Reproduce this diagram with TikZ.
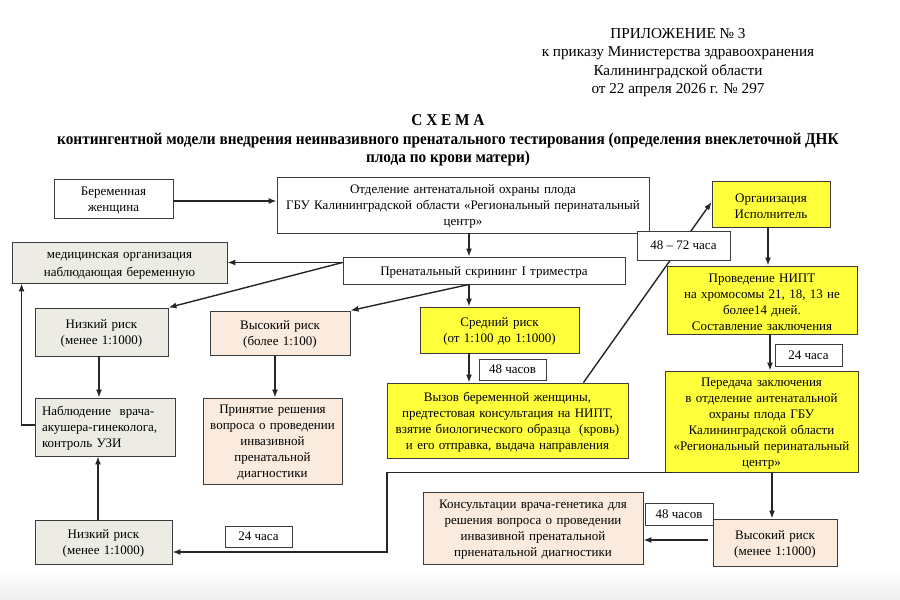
\documentclass[tikz,border=0pt]{standalone}
\usepackage{fontspec}
\setmainfont{Liberation Serif}
\newfontfamily\titlefont{Liberation Serif}[FakeStretch=0.927]
\usetikzlibrary{arrows.meta}
\definecolor{grayf}{RGB}{237,236,228}
\definecolor{peachf}{RGB}{250,235,222}
\definecolor{yellowf}{RGB}{255,255,60}
\definecolor{edge}{RGB}{60,60,60}
\tikzset{
  box/.style={draw=edge, line width=0.9pt, inner xsep=3pt, inner ysep=2pt, align=center,
    font=\fontsize{13}{16}\selectfont, execute at begin node={\rule{0pt}{12.5pt}}},
  wbox/.style={box, fill=white},
  gbox/.style={box, fill=grayf},
  pbox/.style={box, fill=peachf},
  ybox/.style={box, fill=yellowf},
  wh/.code 2 args={\pgfmathsetmacro\boxtw{#1-6}\tikzset{minimum width=#1pt, minimum height=#2pt, text width=\boxtw pt}},
  lbl/.style={draw=edge, line width=0.8pt, fill=white, inner sep=0pt, align=center,
    font=\fontsize{13}{15.5}\selectfont},
  arr/.style={draw=black!85, line width=1.4pt, -{Latex[length=8pt,width=6pt]}},
}
\begin{document}
\begin{tikzpicture}[x=1pt,y=-1pt]
\useasboundingbox (0,0) rectangle (900,600);
\fill[white] (0,0) rectangle (900,600);
\shade[top color=white, bottom color=black!7] (0,570) rectangle (900,600);

% header
\node[align=center, font=\fontsize{15.2}{18.3}\selectfont] (hdr) at (678,62.5)
  {ПРИЛОЖЕНИЕ № 3\\к приказу Министерства здравоохранения\\Калининградской области\\от 22 апреля 2026 г. № 297};
\node[align=center, font=\titlefont\bfseries\fontsize{16.5}{18.5}\selectfont] (title) at (448,140.5)
  {С Х Е М А\\контингентной модели внедрения неинвазивного пренатального тестирования (определения внеклеточной ДНК\\плода по крови матери)};

% boxes
\node[wbox, wh={119}{39}] (bw) at (113.5,198.5) {Беременная\\женщина};
\node[wbox, wh={372}{56}] (otd) at (463,205) {Отделение антенатальной охраны плода\\ГБУ Калининградской области «Региональный перинатальный\\центр»};
\node[gbox, wh={215}{41}, font=\fontsize{13}{18}\selectfont] (med) at (119.5,262.5) {медицинская организация\\наблюдающая беременную};
\node[wbox, wh={282}{27}] (scr) at (484,270.5) {Пренатальный скрининг I триместра};
\node[gbox, wh={133}{48}] (low1) at (101.5,332) {Низкий риск\\(менее 1:1000)};
\node[pbox, wh={140}{44}] (high1) at (280,333) {Высокий риск\\(более 1:100)};
\node[ybox, wh={159}{46}] (mid) at (499.5,330) {Средний риск\\(от 1:100 до 1:1000)};
\node[ybox, wh={241}{75}] (call) at (507.5,420.5) {Вызов беременной женщины,\\предтестовая консультация на НИПТ,\\взятие биологического образца\ \ (кровь)\\и его отправка, выдача направления};
\node[ybox, wh={118}{46}] (org) at (771,204) {Организация\\Исполнитель};
\node[ybox, wh={190}{68}] (nipt) at (762,300) {Проведение НИПТ\\на хромосомы 21, 18, 13 не\\более14 дней.\\Составление заключения};
\node[ybox, wh={193}{101}] (pered) at (761.5,421.5) {Передача заключения\\в отделение антенатальной\\охраны плода ГБУ\\Калининградской области\\«Региональный перинатальный\\центр»};
\node[pbox, wh={124}{47}] (high2) at (775,542.5) {Высокий риск\\(менее 1:1000)};
\node[pbox, wh={220}{72}] (kons) at (533,528) {Консультации врача-генетика для\\решения вопроса о проведении\\инвазивной пренатальной\\прненатальной диагностики};
\node[pbox, wh={139}{86}] (prin) at (272.5,441) {Принятие решения\\вопроса о проведении\\инвазивной\\пренатальной\\диагностики};
\node[gbox, minimum width=140pt, minimum height=58pt, text width=126pt, inner xsep=7pt, align=left] (nabl) at (105,427) {Наблюдение\ \ врача-\\акушера-гинеколога,\\контроль УЗИ};
\node[gbox, wh={137}{44}] (low2) at (103.5,542) {Низкий риск\\(менее 1:1000)};

% connectors
\draw[arr] ([yshift=-2.5pt]bw.east) -- ([yshift=-2.5pt]bw.east -| otd.west);
\draw[arr] ([xshift=6pt]otd.south) -- ([xshift=6pt]otd.south |- scr.north);
\coordinate (sw) at (scr.west |- med.east);
\draw[arr] (sw) -- (med.east);
\draw[arr] (sw) -- (low1.north east);
\coordinate (sb) at ([xshift=-15pt]scr.south);
\draw[arr] (sb) -- (sb |- mid.north);
\draw[arr] (sb) -- (high1.north east);
\draw[arr] ([xshift=-30.5pt]mid.south) -- ([xshift=-30.5pt]mid.south |- call.north);
\draw[arr] ([xshift=-5pt]high1.south) -- ([xshift=-5pt]high1.south |- prin.north);
\draw[arr] ([xshift=-2.5pt]low1.south) -- ([xshift=-2.5pt]low1.south |- nabl.north);
\draw[arr] ([xshift=-5.5pt]low2.north) -- ([xshift=-5.5pt]low2.north |- nabl.south);
\draw[arr] ([yshift=2pt]nabl.west) -| ([xshift=10pt]med.south west);
\draw[arr] ([xshift=-45pt]call.north east) -- ([yshift=2pt]org.west);
\draw[arr] ([xshift=-3pt]org.south) -- ([xshift=-3pt]org.south |- nipt.north);
\draw[arr] ([xshift=8pt]nipt.south) -- ([xshift=8pt]nipt.south |- pered.north);
\draw[arr] ([xshift=10.5pt]pered.south) -- ([xshift=10.5pt]pered.south |- high2.north);
\draw[arr] ([xshift=-5pt,yshift=2.5pt]high2.west) -- ([yshift=2.5pt]high2.west -| kons.east);
\coordinate (pc) at ([xshift=8pt]pered.south west);
\coordinate (bend) at (387,552);
\draw[arr] (pc) -| (bend) -- (bend -| low2.east);

% labels
\node[lbl, minimum width=67pt, minimum height=21pt] (l48a) at (512.5,369.5) {48 часов};
\node[lbl, minimum width=93pt, minimum height=29pt] (l4872) at (683.5,245.5) {48 – 72 часа};
\node[lbl, minimum width=67pt, minimum height=22pt] (l24a) at (808.5,355) {24 часа};
\node[lbl, minimum width=68pt, minimum height=22pt] (l48b) at (679,514) {48 часов};
\node[lbl, minimum width=67pt, minimum height=21pt] (l24b) at (258.5,536.5) {24 часа};
\end{tikzpicture}
\end{document}
